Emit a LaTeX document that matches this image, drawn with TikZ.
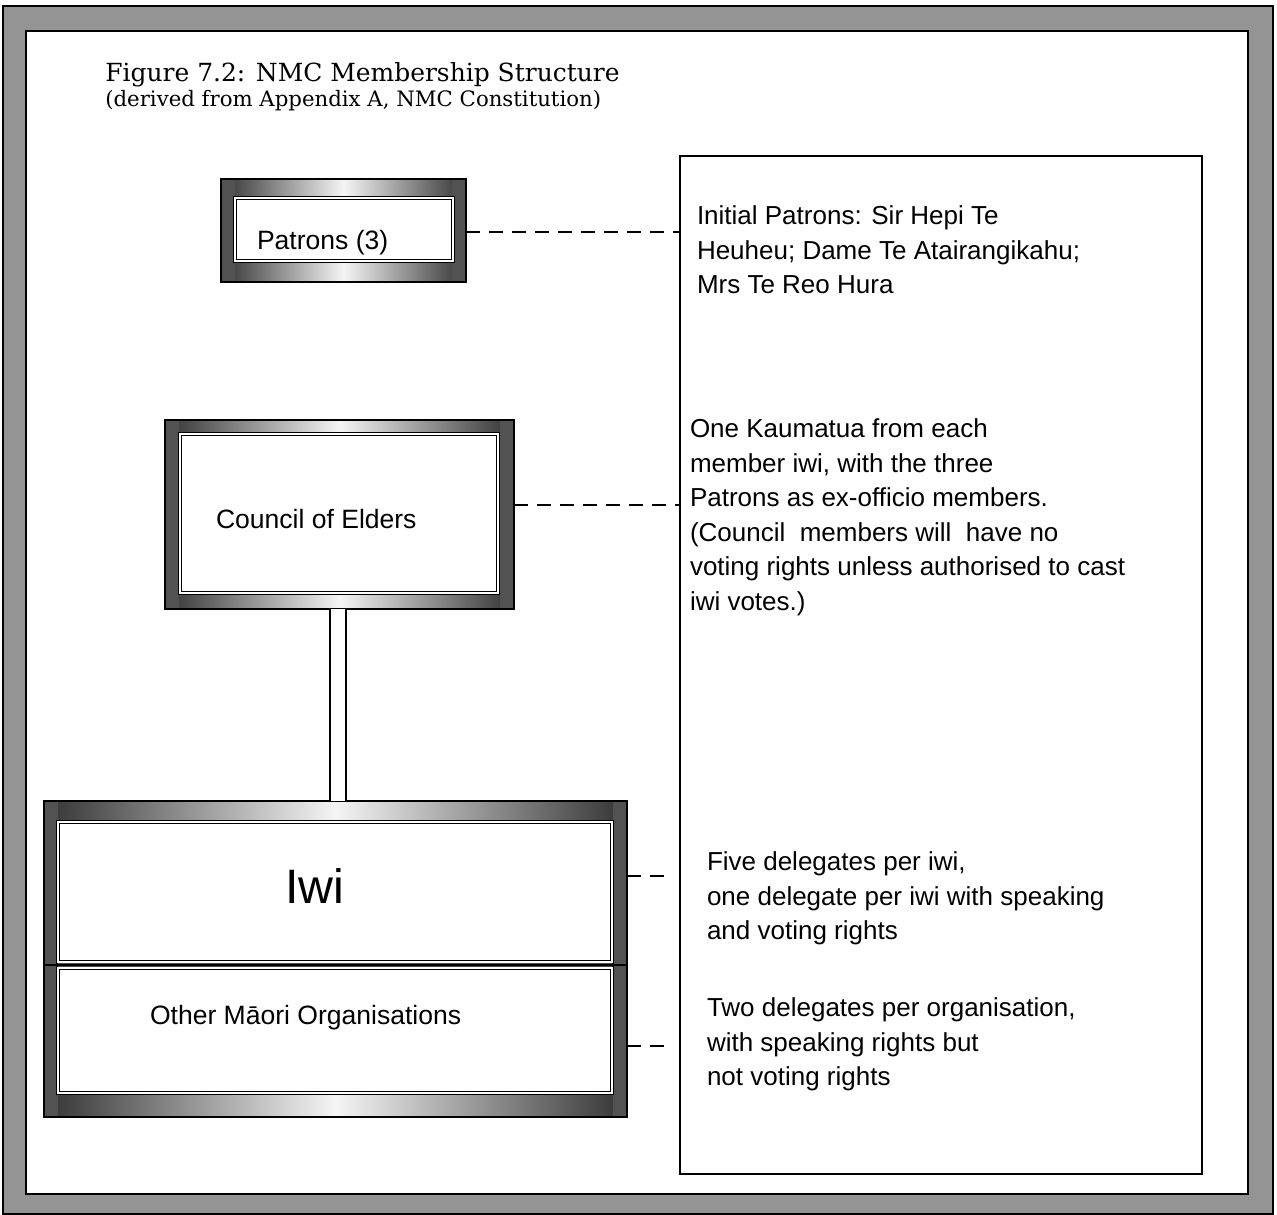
\documentclass[tikz,border=0pt]{standalone}
\usepackage{fontspec}
\setmainfont{Liberation Sans}
\newfontfamily\titlefont{DejaVu Serif}
\usetikzlibrary{calc}
\newcommand\pxl[1]{#1*0.02cm}
\tikzset{
  boxnode/.style={rectangle, inner sep=0pt, outer sep=0pt, draw=none},
  panel/.style={rectangle, inner sep=0pt, outer sep=0pt, fill=white, draw=black,
    line width=\pxl{0.9}, double=white, double distance=\pxl{1.6}},
  bodytext/.style={inner sep=0pt, outer sep=0pt, align=left,
    font=\fontsize{14.8}{19.6}\selectfont},
  labeltext/.style={inner sep=0pt, outer sep=0pt, font=\fontsize{15.1}{18}\selectfont},
  dashline/.style={line width=\pxl{2}, dash pattern=on \pxl{14} off \pxl{9}},
  doubleline/.style={line width=\pxl{2}, double=white, double distance=\pxl{14}},
  notebox/.style={rectangle, draw=black, line width=\pxl{2.2}, inner sep=0pt, outer sep=0pt, fill=white},
}
\newcommand\bevelframe[1]{%
  \shade[left color=black!80, right color=black!80, middle color=black!4]
    (#1.north west) rectangle (#1.south east);
  \fill[black!68] (#1.north west) rectangle ($(#1.south west)+(14,0)$);
  \fill[black!68] (#1.north east) rectangle ($(#1.south east)+(-14,0)$);
  \draw[line width=\pxl{1.5}] (#1.north west) rectangle (#1.south east);
}
\begin{document}
\begin{tikzpicture}[x=0.02cm, y=-0.02cm]
\useasboundingbox (0,0) rectangle (1277,1214);
% outer hatched frame
\fill[white] (0,0) rectangle (1277,1214);
\fill[black!42, even odd rule] (3,6) rectangle (1273,1214) (26,31) rectangle (1248,1194);
\draw[line width=\pxl{1.5}] (3,6) rectangle (1273,1214);
\draw[line width=\pxl{2.5}] (26,31) rectangle (1248,1194);

% title
\node[inner sep=0pt, anchor=base west, font=\titlefont\fontsize{14.2}{17}\selectfont] (title) at (105,81) {Figure 7.2: NMC Membership Structure};
\node[inner sep=0pt, anchor=base west, font=\titlefont\fontsize{12.1}{14}\selectfont] (subtitle) at (105,106) {(derived from Appendix A, NMC Constitution)};

% right notes box
\node[notebox, minimum width=\pxl{522}, minimum height=\pxl{1018}] (notes) at (941,665) {};

% Patrons box
\node[boxnode, minimum width=\pxl{245}, minimum height=\pxl{103}] (patrons) at (343.5,230.5) {};
\bevelframe{patrons}
\node[panel, minimum width=\pxl{218}, minimum height=\pxl{63}] (patronsin) at (344,229.5) {};
\node[labeltext, anchor=base west] (patronsT) at (257,249) {Patrons (3)};

% Council box
\node[boxnode, minimum width=\pxl{349}, minimum height=\pxl{189}] (council) at (339.5,514.5) {};
\bevelframe{council}
\node[panel, minimum width=\pxl{318}, minimum height=\pxl{159}] (councilin) at (339,513.5) {};
\node[labeltext, anchor=base west] (councilT) at (216,528) {Council of Elders};

% Iwi / Other box
\node[boxnode, minimum width=\pxl{583}, minimum height=\pxl{316}] (iwibox) at (335.5,959) {};
\bevelframe{iwibox}
\node[panel, minimum width=\pxl{554}, minimum height=\pxl{140}] (iwi) at (335,892) {};
\node[panel, minimum width=\pxl{554}, minimum height=\pxl{125}] (other) at (335,1030.5) {};
\fill[black!70] ($(iwi.south west)+(0,1)$) rectangle ($(other.north east)+(0,-1)$);
\draw[line width=\pxl{1.5}] ($(iwi.south west)+(-14,3)$) -- ($(iwi.south east)+(14,3)$);
\node[inner sep=0pt, anchor=base west, font=\fontsize{27.5}{32}\selectfont] (iwiT) at (285,903) {Iwi};
\node[labeltext, anchor=base west] (otherT) at (150,1024) {Other Māori Organisations};

% vertical double connector
\coordinate (ctop) at ($(council.south)+(-1.5,0)$);
\draw[doubleline] (ctop) -- (ctop |- iwibox.north);

% dashed connectors
\coordinate (pd) at ($(patrons.east)+(0,1.5)$);
\draw[dashline] (pd) -- (pd -| notes.west);
\coordinate (cd) at ($(council.east)+(0,-9.5)$);
\draw[dashline] (cd) -- (cd -| notes.west);
\coordinate (id) at ($(iwibox.east |- iwi.east)+(0,-16)$);
\coordinate (idend) at ($(id -| notes.west)+(-12,0)$);
\draw[dashline] (id) -- (idend);
\coordinate (od) at ($(iwibox.east |- other.east)+(0,15.5)$);
\coordinate (odend) at ($(od -| notes.west)+(-12,0)$);
\draw[dashline] (od) -- (odend);

% notes text
\node[bodytext, anchor=north west] (patronsN) at (697,206) {Initial Patrons: Sir Hepi Te\\Heuheu; Dame Te Atairangikahu;\\Mrs Te Reo Hura};
\node[bodytext, anchor=north west] (councilN) at (690,419) {One Kaumatua from each\\member iwi, with the three\\Patrons as ex-officio members.\\(Council\ \ members will\ \ have no\\voting rights unless authorised to cast\\iwi votes.)};
\node[bodytext, anchor=north west] (iwiN) at (707,852) {Five delegates per iwi,\\one delegate per iwi with speaking\\and voting rights};
\node[bodytext, anchor=north west] (otherN) at (707,998) {Two delegates per organisation,\\with speaking rights but\\not voting rights};
\end{tikzpicture}
\end{document}
